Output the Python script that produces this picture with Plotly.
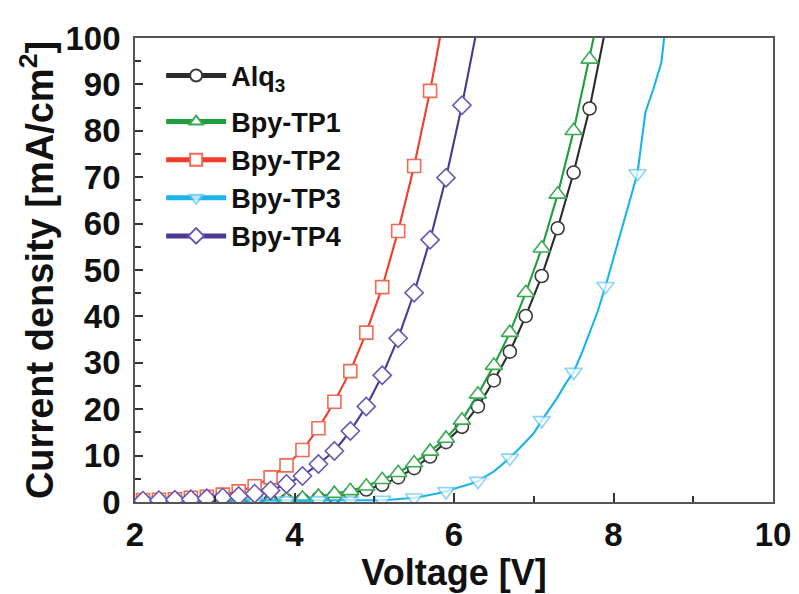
import plotly.graph_objects as go

# ---------------- data ----------------
v_main = [2.1, 2.3, 2.5, 2.7, 2.9, 3.1, 3.3, 3.5, 3.7, 3.9, 4.1, 4.3, 4.5, 4.7, 4.9,
          5.1, 5.3, 5.5, 5.7, 5.9, 6.1, 6.3, 6.5, 6.7, 6.9, 7.1, 7.3, 7.5, 7.7, 7.9]

alq3 = [0.1, 0.1, 0.1, 0.1, 0.1, 0.2, 0.2, 0.2, 0.3, 0.3, 0.4, 0.8, 1.2, 1.8, 2.7,
        3.7, 5.3, 7.3, 9.8, 12.9, 16.2, 20.6, 26.2, 32.4, 40.1, 48.7, 59.0, 71.0, 84.8, 102.0]

tp1 = [0.2, 0.2, 0.2, 0.2, 0.2, 0.3, 0.3, 0.3, 0.4, 0.5, 0.8, 1.2, 1.8, 2.4, 3.4,
       4.8, 6.3, 8.4, 10.9, 13.7, 17.6, 23.2, 29.4, 36.5, 45.1, 54.7, 66.3, 80.0, 95.4, 112.0]

v_tp2 = [2.1, 2.3, 2.5, 2.7, 2.9, 3.1, 3.3, 3.5, 3.7, 3.9, 4.1, 4.3, 4.5, 4.7, 4.9,
         5.1, 5.3, 5.5, 5.7, 5.9]
tp2 = [0.4, 0.5, 0.6, 0.9, 1.1, 1.6, 2.3, 3.4, 5.3, 7.9, 11.2, 15.9, 21.6, 28.2, 36.5,
       46.3, 58.4, 72.4, 88.6, 107.0]

v_tp4 = [2.1, 2.3, 2.5, 2.7, 2.9, 3.1, 3.3, 3.5, 3.7, 3.9, 4.1, 4.3, 4.5, 4.7, 4.9,
         5.1, 5.3, 5.5, 5.7, 5.9, 6.1, 6.3]
tp4 = [0.3, 0.4, 0.5, 0.6, 0.8, 1.0, 1.3, 1.8, 2.5, 3.9, 5.6, 8.2, 11.0, 15.3, 20.6,
       27.3, 35.3, 45.1, 56.5, 69.9, 85.5, 103.0]

v_tp3 = [2.3, 2.4, 2.5, 2.6, 2.7, 2.8, 2.9, 3.0, 3.1, 3.2, 3.3, 3.4, 3.5,
         3.6, 3.7, 3.8, 3.9, 4.0, 4.1, 4.2, 4.3, 4.4, 4.5, 4.6, 4.7, 4.8, 4.9, 5.0,
         5.1, 5.2, 5.3, 5.4, 5.5, 5.6, 5.7, 5.8, 5.9, 6.0, 6.1, 6.2, 6.3, 6.4, 6.5,
         6.6, 6.7, 6.8, 6.9, 7.0, 7.1, 7.2, 7.3, 7.4, 7.5, 7.6, 7.7, 7.8, 7.9, 8.0,
         8.1, 8.2, 8.3, 8.4, 8.5, 8.6, 8.7]
tp3 = [0.3, 0.3, 0.3, 0.3, 0.3, 0.3, 0.3, 0.3, 0.3, 0.3, 0.3, 0.3, 0.3,
       0.3, 0.3, 0.3, 0.3, 0.3, 0.3, 0.3, 0.3, 0.3, 0.3, 0.3, 0.3, 0.3, 0.3, 0.4,
       0.4, 0.5, 0.6, 0.7, 0.9, 1.2, 1.5, 1.9, 2.3, 2.8, 3.3, 3.9, 4.5, 5.5, 6.6,
       8.0, 9.5, 11.2, 13.0, 14.8, 17.6, 20.0, 22.6, 25.5, 28.0, 32.0, 36.5, 41.0, 46.5, 52.5,
       58.5, 64.5, 70.8, 84.0, 89.0, 94.7, 110.0]

x_ticks = [2, 4, 6, 8, 10]
y_ticks = [0, 10, 20, 30, 40, 50, 60, 70, 80, 90, 100]

# ---------------- styles ----------------
MS = 13
MS_TRI = 15
# show Bpy-TP3 markers on every 4th point only
tp3_sizes = [MS_TRI if i % 4 == 0 else 0 for i in range(len(v_tp3))]

fig = go.Figure()

def add(x, y, name, line_c, mark_c, symbol, size=MS, group="b"):
    fig.add_trace(go.Scatter(
        x=x, y=y, name=name, mode="lines+markers", legendgroup=group,
        line=dict(color=line_c, width=2.1),
        marker=dict(symbol=symbol, size=size, color="white",
                    line=dict(color=mark_c, width=1.6)),
    ))

add(v_main, alq3, "Alq<sub>3</sub>", "#2b2b2b", "#3a3a3a", "circle", group="a")
add(v_main, tp1, "Bpy-TP1", "#1f9e3e", "#3aaa52", "triangle-up", size=MS_TRI)
add(v_tp2, tp2, "Bpy-TP2", "#f03c28", "#f26a52", "square")
add(v_tp3, tp3, "Bpy-TP3", "#1cb2ea", "#5cc4f0", "triangle-down", size=tp3_sizes)
add(v_tp4, tp4, "Bpy-TP4", "#4a3894", "#6a56b2", "diamond", size=14)

tickfont = dict(family="Liberation Sans, Arial", size=33, color="#111", weight="bold")

# the page body adds an 8px offset; margins compensate so the plot area lands
# at x 135..773, y 35..502 of the window
fig.update_layout(
    width=799, height=594,
    paper_bgcolor="white", plot_bgcolor="white",
    margin=dict(l=127, r=34, t=27, b=100),
    font=dict(family="Liberation Sans, Arial", color="#111"),
    showlegend=True,
    legend=dict(
        x=0.041, y=0.971, xanchor="left", yanchor="top",
        font=dict(family="Liberation Sans, Arial", size=27, color="#111", weight="bold"),
        bgcolor="rgba(0,0,0,0)", itemwidth=60, tracegroupgap=8,
        traceorder="grouped", itemsizing="constant",
    ),
    xaxis=dict(
        range=[2, 10], tickvals=x_ticks, ticktext=[str(t) for t in x_ticks],
        ticks="inside", ticklen=9, tickwidth=1.5, tickcolor="#333",
        minor=dict(dtick=1, ticks="inside", ticklen=6, tickwidth=1.5, tickcolor="#333"),
        showline=True, linecolor="#555", linewidth=1.8, mirror=True,
        showgrid=False, zeroline=False,
        tickfont=tickfont, ticklabelstandoff=2,
        title=dict(text="Voltage [V]", standoff=4,
                   font=dict(family="Liberation Sans, Arial", size=36, weight="bold", color="#111")),
    ),
    yaxis=dict(
        range=[0, 100], tickvals=y_ticks, ticktext=[str(t) for t in y_ticks],
        ticks="inside", ticklen=8, tickwidth=1.5, tickcolor="#333",
        minor=dict(dtick=5, ticks="inside", ticklen=6, tickwidth=1.5, tickcolor="#333"),
        showline=True, linecolor="#555", linewidth=1.8, mirror=True,
        showgrid=False, zeroline=False,
        tickfont=tickfont, ticklabelstandoff=6,
        title=dict(text="Current density [mA/cm<sup>2</sup>]", standoff=0,
                   font=dict(family="Liberation Sans, Arial", size=38, weight="bold", color="#111")),
    ),
)

fig.write_html("out.html")
